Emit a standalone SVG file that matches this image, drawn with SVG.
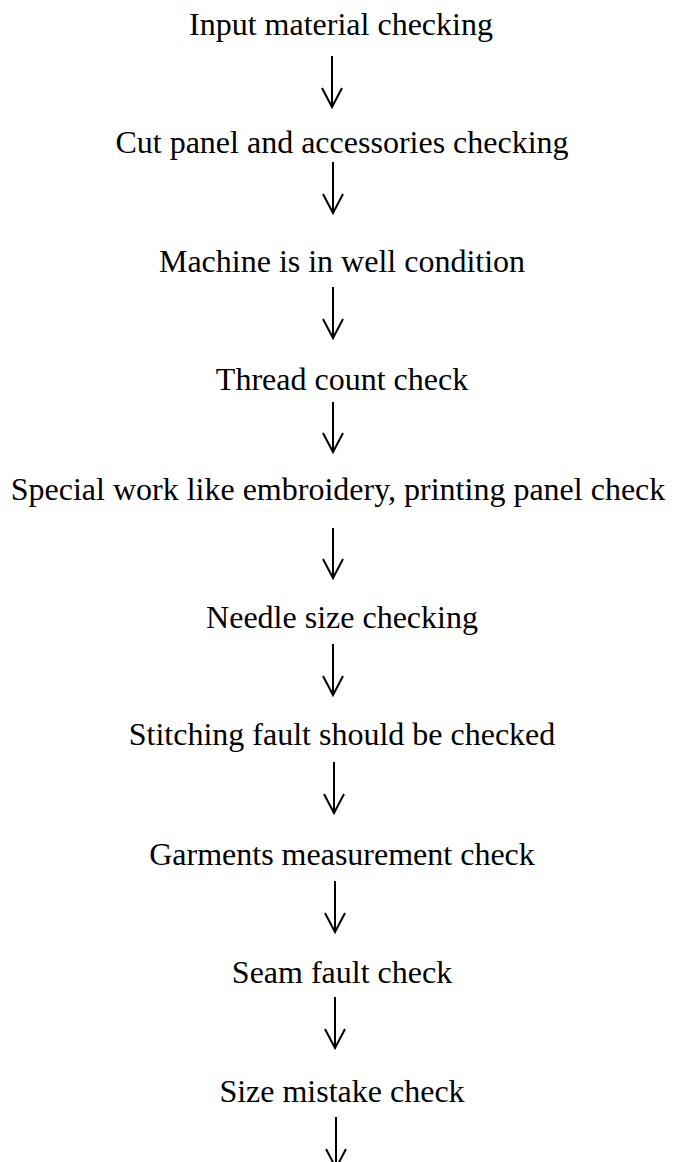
<svg xmlns="http://www.w3.org/2000/svg" width="675" height="1162" viewBox="0 0 675 1162">
<style>
  .lbl { font-family: "Liberation Serif", "Times New Roman", serif; font-size: 32px; fill: #000; text-anchor: middle; }
  .arr { stroke: #000; stroke-width: 2; fill: none; marker-end: url(#head); }
</style>
<defs>
  <marker id="head" markerUnits="userSpaceOnUse" markerWidth="24" markerHeight="24" viewBox="-2 -2 24 24" refX="19" refY="10" orient="auto" overflow="visible">
    <path d="M0,0 L19,10 L0,20" fill="none" stroke="#000" stroke-width="2"/>
  </marker>
</defs>
<rect width="675" height="1162" fill="#fff"/>
<g id="n1"><text class="lbl" x="341" y="35">Input material checking</text></g>
<g id="n2"><text class="lbl" x="342" y="153">Cut panel and accessories checking</text></g>
<g id="n3"><text class="lbl" x="342" y="272">Machine is in well condition</text></g>
<g id="n4"><text class="lbl" x="342" y="390">Thread count check</text></g>
<g id="n5"><text class="lbl" x="338" y="500">Special work like embroidery, printing panel check</text></g>
<g id="n6"><text class="lbl" x="342" y="628">Needle size checking</text></g>
<g id="n7"><text class="lbl" x="342" y="745">Stitching fault should be checked</text></g>
<g id="n8"><text class="lbl" x="342" y="865">Garments measurement check</text></g>
<g id="n9"><text class="lbl" x="342" y="983">Seam fault check</text></g>
<g id="n10"><text class="lbl" x="342" y="1102">Size mistake check</text></g>
<g id="connectors">
  <line class="arr" x1="332" y1="56" x2="332" y2="107"/>
  <line class="arr" x1="333" y1="162" x2="333" y2="213"/>
  <line class="arr" x1="333" y1="287" x2="333" y2="338"/>
  <line class="arr" x1="333" y1="402" x2="333" y2="452"/>
  <line class="arr" x1="333" y1="528" x2="333" y2="578"/>
  <line class="arr" x1="333" y1="644" x2="333" y2="695"/>
  <line class="arr" x1="334" y1="762" x2="334" y2="813"/>
  <line class="arr" x1="335" y1="881" x2="335" y2="932"/>
  <line class="arr" x1="335" y1="997" x2="335" y2="1048"/>
  <line class="arr" x1="336" y1="1117" x2="336" y2="1168"/>
</g>
</svg>
